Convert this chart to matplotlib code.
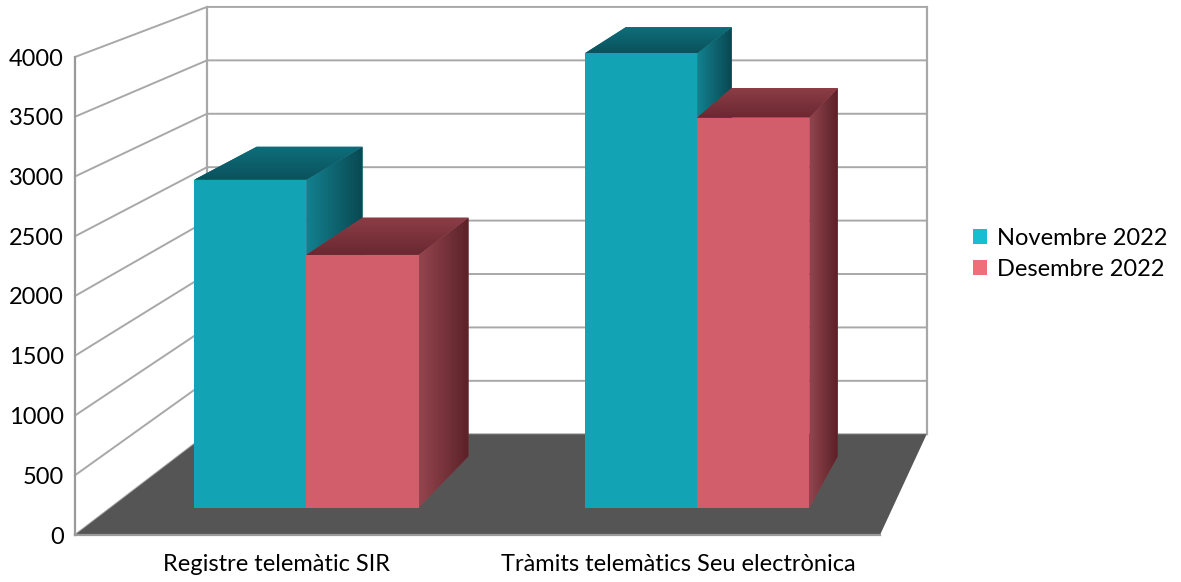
import matplotlib.pyplot as plt
import numpy as np
from matplotlib.patches import Polygon, Patch
from matplotlib.colors import LinearSegmentedColormap

plt.rcParams['font.family'] = ['Lato', 'DejaVu Sans']

# Dades
categories = ['Registre telemàtic SIR', 'Tràmits telemàtics Seu electrònica']
series = ['Novembre 2022', 'Desembre 2022']
nov_2022 = [2825, 3916]
des_2022 = [2178, 3361]
y_ticks = [0, 500, 1000, 1500, 2000, 2500, 3000, 3500, 4000]

front_colors = ['#12a3b5', '#d15e6a']
top_colors = [('#0e6e7a', '#0a525c'), ('#8c3d46', '#6a2830')]
side_colors = [('#13818f', '#094852'), ('#94454e', '#5a2127')]
legend_colors = ['#17bed2', '#f06e7a']

# perspectiva (punt de fuga en coordenades de dades)
VP = (3.093, 7950.0)
DEPTH = 8.43
ymax = y_ticks[-1]
n_cat = len(categories)


def proj(x, v, z):
    s = DEPTH / (DEPTH + z)
    return (VP[0] + s * (x - VP[0]), VP[1] + s * (v - VP[1]))


fig = plt.figure(figsize=(11.81, 5.82), dpi=100)
ax = fig.add_axes([0, 0, 1, 1])
ax.patch.set_alpha(0)


def face(pts, c1, c2=None, z=2, vertical=False):
    poly = Polygon(pts, closed=True, facecolor=c1, edgecolor='none', zorder=z)
    ax.add_patch(poly)
    if c2 is not None:
        xs = [p[0] for p in pts]
        ys = [p[1] for p in pts]
        cmap = LinearSegmentedColormap.from_list('g', [c1, c2])
        grad = np.linspace(0, 1, 64)
        grad = grad.reshape(-1, 1) if vertical else grad.reshape(1, -1)
        im = ax.imshow(grad, cmap=cmap, extent=(min(xs), max(xs), min(ys), max(ys)),
                       origin='upper' if vertical else 'lower',
                       aspect='auto', zorder=z, interpolation='bilinear')
        im.set_clip_path(poly)


grid_c = '#a8a8a8'

# paret del fons i paret esquerra
face([proj(0, 0, 1), proj(n_cat, 0, 1), proj(n_cat, ymax, 1), proj(0, ymax, 1)], 'white', z=0.5)
face([proj(0, 0, 0), proj(0, 0, 1), proj(0, ymax, 1), proj(0, ymax, 0)], 'white', z=0.5)
for v in y_ticks:
    a, b, c = proj(0, v, 0), proj(0, v, 1), proj(n_cat, v, 1)
    ax.plot([a[0], b[0], c[0]], [a[1], b[1], c[1]], color=grid_c, lw=1.4, zorder=0.8)
for xe in [0, n_cat]:
    a, b = proj(xe, 0, 1), proj(xe, ymax, 1)
    ax.plot([a[0], b[0]], [a[1], b[1]], color=grid_c, lw=1.6, zorder=0.8)

# terra
face([proj(0, 0, 0), proj(n_cat, 0, 0), proj(n_cat, 0, 1), proj(0, 0, 1)], '#555555', z=1)

# barres
bar_w = 0.287
gap = (1 - 2 * bar_w) / 2
z0, z1 = 0.25, 0.76
zo = 3
for i in range(n_cat):
    for j, vals in enumerate([nov_2022, des_2022]):
        v = vals[i]
        xl = i + gap + j * bar_w
        xr = xl + bar_w
        face([proj(xr, 0, z0), proj(xr, 0, z1), proj(xr, v, z1), proj(xr, v, z0)],
             side_colors[j][0], side_colors[j][1], z=zo)
        face([proj(xl, v, z0), proj(xr, v, z0), proj(xr, v, z1), proj(xl, v, z1)],
             top_colors[j][0], top_colors[j][1], z=zo + 0.1, vertical=True)
        face([proj(xl, 0, z0), proj(xr, 0, z0), proj(xr, v, z0), proj(xl, v, z0)],
             front_colors[j], z=zo + 0.2)
        zo += 1

# eixos
ax.set_xlim(-75 / 402.5, (1181 - 75) / 402.5)
ax.set_ylim(-47 / 0.1195, (582 - 47) / 0.1195)
for s in ['top', 'right']:
    ax.spines[s].set_visible(False)
ax.spines['left'].set_position(('data', 0))
ax.spines['bottom'].set_position(('data', 0))
ax.spines['left'].set_bounds(0, ymax)
ax.spines['bottom'].set_bounds(0, n_cat)
for s in ['left', 'bottom']:
    ax.spines[s].set_color('#9a9a9a')
    ax.spines[s].set_linewidth(1.6)
    ax.spines[s].set_zorder(2)
ax.set_yticks(y_ticks)
ax.set_yticklabels([str(t) for t in y_ticks])
ax.set_xticks([i + 0.5 for i in range(n_cat)])
ax.set_xticklabels(categories)
ax.tick_params(axis='y', length=0, pad=8, labelsize=17)
ax.tick_params(axis='x', length=0, pad=14, labelsize=17)

handles = [Patch(facecolor=c, edgecolor='none') for c in legend_colors]
fig.legend(handles, series, loc='center left', bbox_to_anchor=(952 / 1181, 1 - 254 / 582),
           frameon=False, fontsize=17, handlelength=0.6, handleheight=0.6,
           handletextpad=0.4, labelspacing=0.45)

fig.savefig('out.png', dpi=100)
